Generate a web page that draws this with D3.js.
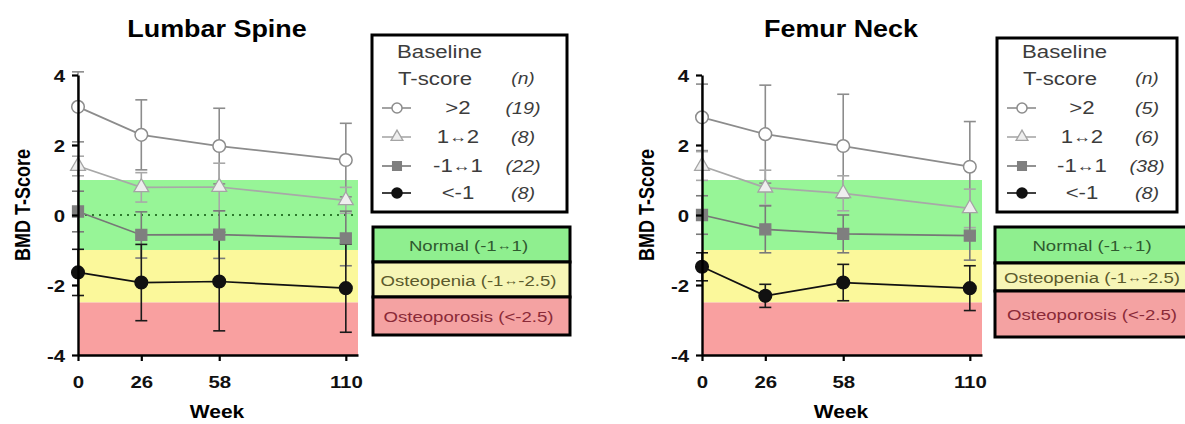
<!DOCTYPE html>
<html>
<head>
<meta charset="utf-8">
<script src="https://cdn.jsdelivr.net/npm/d3@7"></script>
<style>
  html, body { margin: 0; padding: 0; background: #fff; }
  svg { display: block; font-family: "Liberation Sans", Arial, sans-serif; }
</style>
</head>
<body>
<svg id="chart" width="1185" height="424"></svg>
<script>
// ---- data ----
const weeks = [0, 26, 58, 110];
const yTicks = [4, 2, 0, -2, -4];
const groupLabels = [">2", "1\u21942", "-1\u21941", "<-1"];
const panelTitles = ["Lumbar Spine", "Femur Neck"];

// Lumbar spine: mean T-score and SD per baseline group
const lumbarN = [19, 8, 22, 8];
const lumbarGt2 = [3.09, 2.29, 1.97, 1.57];
const lumbarGt2Sd = [1.0, 1.0, 1.08, 1.05];
const lumbar1to2 = [1.40, 0.79, 0.80, 0.42];
const lumbar1to2Sd = [0.28, 0.42, 0.68, 0.37];
const lumbarM1to1 = [0.10, -0.57, -0.56, -0.67];
const lumbarM1to1Sd = [0.58, 0.66, 0.68, 0.78];
const lumbarLtM1 = [-1.64, -1.93, -1.90, -2.09];
const lumbarLtM1Sd = [0.66, 1.09, 1.41, 1.26];

// Femur neck
const femurN = [5, 6, 38, 8];
const femurGt2 = [2.79, 2.31, 1.97, 1.38];
const femurGt2Sd = [0.95, 1.40, 1.48, 1.29];
const femur1to2 = [1.40, 0.78, 0.62, 0.19];
const femur1to2Sd = [0.41, 0.50, 0.50, 0.55];
const femurM1to1 = [0.0, -0.41, -0.54, -0.59];
const femurM1to1Sd = [0.55, 0.67, 0.54, 0.70];
const femurLtM1 = [-1.48, -2.31, -1.93, -2.09];
const femurLtM1Sd = [0.40, 0.33, 0.52, 0.64];

// WHO classification bands
const bandNames = ["Normal (-1\u21941)", "Osteopenia (-1\u2194-2.5)", "Osteoporosis (<-2.5)"];
const bandTop = [1, -1, -2.5];
const bandBottom = [-1, -2.5, -4];

// ---- styles ----
const SX = 1.2; // horizontal stretch of lettering
const bandFill = ["#97f597", "#fbf89b", "#f9a0a0"];
const bandKeyFill = ["#8fef8f", "#f6f5b6", "#f4a2a2"];
const bandKeyText = ["#2f5a2f", "#5b5a2c", "#8a2a38"];
const seriesStyle = [
  { shape: "circle", line: "#8c8c8c", fill: "#ffffff", stroke: "#8c8c8c", err: "#8c8c8c" },
  { shape: "triangle", line: "#a8a8a8", fill: "#eeeeee", stroke: "#a4a4a4", err: "#a8a8a8" },
  { shape: "square", line: "#777777", fill: "#7f7f7f", stroke: "#7f7f7f", err: "#7a7a7a" },
  { shape: "dot", line: "#111111", fill: "#111111", stroke: "#111111", err: "#1a1a1a" }
];

const panels = [
  {
    title: panelTitles[0], n: lumbarN, zeroLine: true,
    means: [lumbarGt2, lumbar1to2, lumbarM1to1, lumbarLtM1],
    sds: [lumbarGt2Sd, lumbar1to2Sd, lumbarM1to1Sd, lumbarLtM1Sd],
    x0: 78, legend: { x: 372, y: 35, w: 195, h: 177 },
    key: { x: 373, w: 197, rows: [227, 262, 297, 335] }
  },
  {
    title: panelTitles[1], n: femurN, zeroLine: false,
    means: [femurGt2, femur1to2, femurM1to1, femurLtM1],
    sds: [femurGt2Sd, femur1to2Sd, femurM1to1Sd, femurLtM1Sd],
    x0: 702, legend: { x: 997, y: 38, w: 180, h: 174 },
    key: { x: 995, w: 200, rows: [227, 263, 291, 337] }
  }
];

const svg = d3.select("#chart");
svg.append("rect").attr("width", 1185).attr("height", 424).attr("fill", "#fff");

// writes a string, drawing the double arrow a little smaller than the digits
function label(g, x, y, s, o = {}) {
  const size = o.size || 17;
  const t = g.append("text")
    .attr("transform", `translate(${x},${y}) scale(${o.sx || SX},1)${o.rot ? ` rotate(${o.rot})` : ""}`)
    .attr("text-anchor", o.anchor || "middle")
    .attr("font-size", size)
    .attr("font-weight", o.weight || "normal")
    .attr("fill", o.fill || "#000");
  if (o.italic) t.attr("font-style", "italic");
  if (o.baseline) t.attr("dominant-baseline", o.baseline);
  s.split("\u2194").forEach((part, i) => {
    if (i > 0) {
      t.append("tspan").attr("font-size", size * 0.8).attr("dy", -1).text("\u2194");
      t.append("tspan").attr("dy", 1).text(part);
    } else {
      t.append("tspan").text(part);
    }
  });
  return t;
}

function marker(g, style, cx, cy, k = 1) {
  if (style.shape === "circle" || style.shape === "dot") {
    g.append("circle").attr("cx", cx).attr("cy", cy).attr("r", 6.3 * k)
      .attr("fill", style.fill).attr("stroke", style.stroke).attr("stroke-width", 1.5);
  } else {
    const type = style.shape === "triangle" ? d3.symbolTriangle : d3.symbolSquare;
    const size = style.shape === "triangle" ? 95 : 120;
    g.append("path").attr("d", d3.symbol().type(type).size(size * k * k)())
      .attr("transform", `translate(${cx},${cy})`)
      .attr("fill", style.fill).attr("stroke", style.stroke).attr("stroke-width", 1.3);
  }
}

panels.forEach(p => {
  const g = svg.append("g");
  const x = d3.scaleLinear().domain([0, 115]).range([p.x0, p.x0 + 280]);
  const y = d3.scaleLinear().domain([-4, 4]).range([355, 75]);

  // classification bands
  bandTop.forEach((t, i) => {
    g.append("rect").attr("x", x(0)).attr("y", y(t))
      .attr("width", x(115) - x(0)).attr("height", y(bandBottom[i]) - y(t))
      .attr("fill", bandFill[i]);
  });

  if (p.zeroLine) {
    g.append("line").attr("x1", x(0)).attr("x2", x(115)).attr("y1", y(0)).attr("y2", y(0))
      .attr("stroke", "#2d7a2d").attr("stroke-width", 2).attr("stroke-dasharray", "2,5");
  }

  // error bars, lines, markers
  p.means.forEach((m, si) => {
    const st = seriesStyle[si];
    const sd = p.sds[si];
    const eg = g.append("g").attr("stroke", st.err).attr("stroke-width", 1.6);
    m.forEach((v, i) => {
      const cx = x(weeks[i]);
      eg.append("line").attr("x1", cx).attr("x2", cx).attr("y1", y(v + sd[i])).attr("y2", y(v - sd[i]));
      [v + sd[i], v - sd[i]].forEach(e => {
        eg.append("line").attr("x1", cx - 6).attr("x2", cx + 6).attr("y1", y(e)).attr("y2", y(e));
      });
    });
  });
  p.means.forEach((m, si) => {
    const st = seriesStyle[si];
    g.append("path").datum(m)
      .attr("d", d3.line().x((d, i) => x(weeks[i])).y(d => y(d)))
      .attr("fill", "none").attr("stroke", st.line).attr("stroke-width", 1.7);
    m.forEach((v, i) => marker(g, st, x(weeks[i]), y(v)));
  });

  // axes
  const ya = g.append("g").attr("transform", `translate(${x(0)},0)`)
    .call(d3.axisLeft(y).tickValues(yTicks).tickSize(6).tickSizeOuter(0).tickFormat(d => String(d)));
  const xa = g.append("g").attr("transform", `translate(0,${y(-4)})`)
    .call(d3.axisBottom(x).tickValues(weeks).tickSize(6).tickSizeOuter(0).tickFormat(d => String(d)));
  [ya, xa].forEach(a => {
    a.select(".domain").attr("stroke", "#000").attr("stroke-width", 2.4);
    a.selectAll(".tick line").attr("stroke", "#000").attr("stroke-width", 2.2);
    a.selectAll(".tick text").attr("font-size", 17).attr("font-weight", "bold")
      .attr("fill", "#111").attr("font-family", "'Liberation Sans', Arial, sans-serif")
      .attr("transform", `scale(${SX},1)`);
  });
  ya.selectAll(".tick text").attr("x", -13 / SX).attr("dy", "0.36em");
  xa.selectAll(".tick text").attr("x", 0).attr("y", 33).attr("dy", null).attr("text-anchor", "middle");

  // titles
  const cxMid = (x(0) + x(115)) / 2;
  label(g, cxMid - 1, 37, p.title, { size: 23, weight: "bold", sx: 1.17 });
  label(g, cxMid - 1, 418, "Week", { size: 17.5, weight: "bold" });
  label(g, x(0) - 56, 205, "BMD T-Score", { size: 18, weight: "bold", rot: -90, baseline: "central" });

  // group legend
  const L = p.legend;
  const lg = g.append("g");
  lg.append("rect").attr("x", L.x).attr("y", L.y).attr("width", L.w).attr("height", L.h)
    .attr("fill", "#fff").attr("stroke", "#000").attr("stroke-width", 3);
  const lx = L.x + 25;
  label(lg, lx, 58, "Baseline", { size: 18.5, anchor: "start", fill: "#3c3c3c" });
  label(lg, lx + 1, 85, "T-score", { size: 18.5, anchor: "start", fill: "#3c3c3c" });
  const nx = p.x0 + 445;
  label(lg, nx, 84, "(n)", { size: 16, italic: true, fill: "#3c3c3c" });
  const rowY = [108, 137, 166, 193];
  groupLabels.forEach((s, i) => {
    const st = seriesStyle[i];
    const ry = rowY[i];
    lg.append("line").attr("x1", lx - 15).attr("x2", lx + 14).attr("y1", ry).attr("y2", ry)
      .attr("stroke", st.line).attr("stroke-width", 1.6);
    marker(lg, st, lx, ry, 0.8);
    label(lg, p.x0 + 380, ry + 6, s, { size: 18.5, fill: "#3c3c3c" });
    label(lg, nx, ry + 6, `(${p.n[i]})`, { size: 16.5, italic: true, fill: "#3c3c3c" });
  });

  // classification key
  const K = p.key;
  bandNames.forEach((s, i) => {
    const top = K.rows[i], bot = K.rows[i + 1];
    g.append("rect").attr("x", K.x).attr("y", top).attr("width", K.w).attr("height", bot - top)
      .attr("fill", bandKeyFill[i]).attr("stroke", "#000").attr("stroke-width", 3);
    label(g, K.x + K.w / 2 - 3, (top + bot) / 2 + 6, s, { size: 15.5, fill: bandKeyText[i] });
  });
});
</script>
</body>
</html>
